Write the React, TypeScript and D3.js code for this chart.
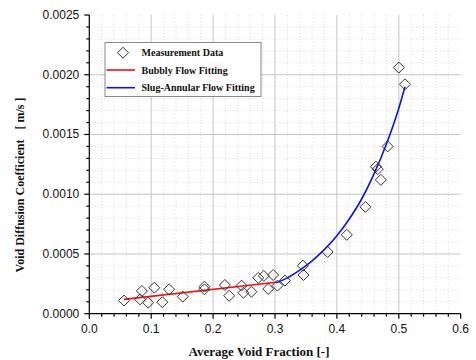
import React from "react";
import * as d3 from "d3";

const measX = [0.056, 0.082, 0.085, 0.095, 0.105, 0.118, 0.129, 0.151, 0.186, 0.186, 0.219, 0.226, 0.246, 0.249, 0.262, 0.273, 0.282, 0.289, 0.297, 0.304, 0.316, 0.345, 0.346, 0.385, 0.416, 0.446, 0.463, 0.466, 0.471, 0.482, 0.5, 0.51];
const measY = [0.00011, 0.00012, 0.00019, 0.000092, 0.000218, 0.000096, 0.000204, 0.000143, 0.000226, 0.000204, 0.00024, 0.00015, 0.000235, 0.000175, 0.000184, 0.0003, 0.000316, 0.000207, 0.000324, 0.000235, 0.000277, 0.000402, 0.000324, 0.000517, 0.00066, 0.000894, 0.00123, 0.00121, 0.00112, 0.0014, 0.00206, 0.00192];

const bubblyX = [0.056, 0.302];
const bubblyY = [0.00012, 0.000263];

const slugX = [0.302, 0.32, 0.34, 0.36, 0.38, 0.4, 0.42, 0.44, 0.46, 0.48, 0.5, 0.51];
const slugY = [0.00026, 0.0003, 0.000365, 0.000443, 0.000538, 0.000653, 0.000793, 0.00096, 0.00117, 0.00142, 0.00172, 0.0019];

const xTicks = [0.0, 0.1, 0.2, 0.3, 0.4, 0.5, 0.6];
const yTicks = [0.0, 0.0005, 0.001, 0.0015, 0.002, 0.0025];
const legendLabels = ["Measurement Data", "Bubbly Flow Fitting", "Slug-Annular Flow Fitting"];

const W = 476, H = 360;
const L = 89.3, R = 460.7, T = 15, B = 313.7;

export default function App() {
  const x = d3.scaleLinear().domain([0, 0.6]).range([L, R]);
  const y = d3.scaleLinear().domain([0, 0.0025]).range([B, T]);

  const xMinor = d3.range(0, 31).map((i) => i * 0.02);
  const yMinor = d3.range(0, 26).map((i) => i * 0.0001);
  const isMajorX = (v: number) => Math.abs(v * 10 - Math.round(v * 10)) < 1e-6;
  const isMajorY = (v: number) => Math.abs(v / 0.0005 - Math.round(v / 0.0005)) < 1e-6;

  const line = d3.line<[number, number]>().x((d) => x(d[0])).y((d) => y(d[1]));
  const curve = d3
    .line<[number, number]>()
    .x((d) => x(d[0]))
    .y((d) => y(d[1]))
    .curve(d3.curveMonotoneX);

  const bubbly = bubblyX.map((v, i) => [v, bubblyY[i]] as [number, number]);
  const slug = slugX.map((v, i) => [v, slugY[i]] as [number, number]);

  const dm = 5.5;
  const diamond = (cx: number, cy: number) =>
    `M${cx},${cy - dm}L${cx + dm},${cy}L${cx},${cy + dm}L${cx - dm},${cy}Z`;

  const serif = "'Liberation Serif', 'Times New Roman', serif";
  const sans = "'Liberation Sans', Arial, sans-serif";

  return (
    <svg width={W} height={H} style={{ position: "absolute", left: 0, top: 0, background: "#fff" }}>
      <rect x={0} y={0} width={W} height={H} fill="#fff" />
      {/* minor grid */}
      <g stroke="#d4d4d4" strokeWidth={0.8} strokeDasharray="1,2">
        {xMinor.filter((v) => !isMajorX(v)).map((v, i) => (
          <line key={"xm" + i} x1={x(v)} x2={x(v)} y1={T} y2={B} />
        ))}
        {yMinor.filter((v) => !isMajorY(v)).map((v, i) => (
          <line key={"ym" + i} x1={L} x2={R} y1={y(v)} y2={y(v)} />
        ))}
      </g>
      {/* major grid */}
      <g stroke="#c4c4c4" strokeWidth={1}>
        {xTicks.slice(1, -1).map((v, i) => (
          <line key={"xg" + i} x1={x(v)} x2={x(v)} y1={T} y2={B} />
        ))}
        {yTicks.slice(1, -1).map((v, i) => (
          <line key={"yg" + i} x1={L} x2={R} y1={y(v)} y2={y(v)} />
        ))}
      </g>

      {/* fits */}
      <path d={line(bubbly) || ""} fill="none" stroke="#ee1111" strokeWidth={1.6} />
      <path d={curve(slug) || ""} fill="none" stroke="#1111dd" strokeWidth={1.6} />

      {/* data */}
      <g fill="none" stroke="#333" strokeWidth={1}>
        {measX.map((v, i) => (
          <path key={"p" + i} d={diamond(x(v), y(measY[i]))} />
        ))}
      </g>

      {/* axes */}
      <g stroke="#000" strokeWidth={1.2}>
        <line x1={L} x2={L} y1={T} y2={B} />
        <line x1={L} x2={R} y1={B} y2={B} />
        {xMinor.map((v, i) => (
          <line key={"xt" + i} x1={x(v)} x2={x(v)} y1={B} y2={B + (isMajorX(v) ? 5 : 3)} />
        ))}
        {yMinor.map((v, i) => (
          <line key={"yt" + i} x1={L} x2={L - (isMajorY(v) ? 5 : 3)} y1={y(v)} y2={y(v)} />
        ))}
      </g>
      <g fontFamily={sans} fontSize={12} fill="#111">
        {xTicks.map((v, i) => (
          <text key={"xl" + i} x={x(v)} y={B + 19} textAnchor="middle">
            {d3.format(".1f")(v)}
          </text>
        ))}
        {yTicks.map((v, i) => (
          <text key={"yl" + i} x={L - 10} y={y(v) + 4} textAnchor="end">
            {d3.format(".4f")(v)}
          </text>
        ))}
      </g>

      {/* axis titles */}
      <text x={259} y={356} textAnchor="middle" fontFamily={serif} fontWeight="bold" fontSize={13} fill="#111">
        Average Void Fraction [-]
      </text>
      <text
        transform="translate(24,185) rotate(-90)"
        textAnchor="middle"
        fontFamily={serif}
        fontWeight="bold"
        fontSize={12}
        fill="#111"
      >
        <tspan>Void Diffusion Coefficient</tspan>
        <tspan dx={10}>[ m/s ]</tspan>
      </text>

      {/* legend */}
      <g>
        <rect x={105} y={42.5} width={156} height={54} fill="#fff" stroke="#888" strokeWidth={1} />
        <path d={diamond(123, 52.7)} fill="none" stroke="#333" strokeWidth={1} />
        <line x1={106.5} x2={135} y1={70} y2={70} stroke="#ee1111" strokeWidth={1.6} />
        <line x1={106.5} x2={135} y1={87.7} y2={87.7} stroke="#1111dd" strokeWidth={1.6} />
        <g fontFamily={serif} fontWeight="bold" fontSize={10} fill="#111">
          {legendLabels.map((t, i) => (
            <text key={"lg" + i} x={141.5} y={56 + i * 17.5}>
              {t}
            </text>
          ))}
        </g>
      </g>
    </svg>
  );
}
